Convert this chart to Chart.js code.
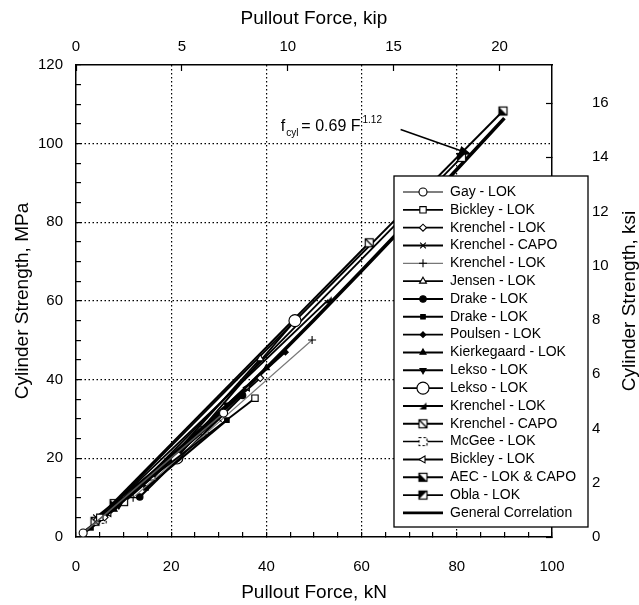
<!DOCTYPE html>
<html><head><meta charset="utf-8">
<script src="https://cdn.jsdelivr.net/npm/chart.js@4.4.1/dist/chart.umd.min.js"></script>
<style>html,body{margin:0;padding:0;background:#fff;}canvas{display:block;}</style>
</head><body>
<canvas id="c" width="639" height="605"></canvas>
<script>
const FONT = "'Liberation Sans', Arial, Helvetica, sans-serif";

// ---- tick labels ----
const kNTickLabels = [0, 20, 40, 60, 80, 100];
const mpaTickLabels = [0, 20, 40, 60, 80, 100, 120];
const kipTicks = [0, 5, 10, 15, 20];
const ksiTicks = [0, 2, 4, 6, 8, 10, 12, 14, 16];
const KN_PER_KIP = 4.448222;
const MPA_PER_KSI = 6.894757;

// ---- series (Pullout force kN, cylinder strength MPa) ----
const seriesNames = ['Gay - LOK','Bickley - LOK','Krenchel - LOK','Krenchel - CAPO','Krenchel - LOK',
  'Jensen - LOK','Drake - LOK','Drake - LOK','Poulsen - LOK','Kierkegaard - LOK','Lekso - LOK',
  'Lekso - LOK','Krenchel - LOK','Krenchel - CAPO','McGee - LOK','Bickley - LOK',
  'AEC - LOK & CAPO','Obla - LOK','General Correlation'];

const gayX = [1.5, 31];          const gayY = [1.0, 31.5];
const bickley1X = [5, 37.6];     const bickley1Y = [5, 35.3];
const krenchel1X = [6, 38.7];    const krenchel1Y = [5, 40.4];
const krenchel2X = [4.2, 30];    const krenchel2Y = [5, 30];
const krenchel3X = [12, 49.6];   const krenchel3Y = [10, 50.1];
const jensenX = [16.2, 38.7];    const jensenY = [15, 45.3];
const drake1X = [13.4, 35];      const drake1Y = [10.2, 36];
const drake2X = [14.7, 31.7];    const drake2Y = [12.5, 29.7];
const poulsenX = [5, 44];        const poulsenY = [4.5, 47];
const kierkX = [8, 40];          const kierkY = [7, 43];
const lekso1X = [9, 31.7];       const lekso1Y = [8, 33.6];
const lekso2X = [21.2, 46];      const lekso2Y = [20.1, 55];
const krenchel4X = [3, 53];      const krenchel4Y = [2.5, 60.3];
const krenchel5X = [4, 61.6];    const krenchel5Y = [4, 74.8];
const mcgeeX = [5.5, 27];        const mcgeeY = [4.5, 27];
const bickley2X = [6.9, 36];     const bickley2Y = [6.1, 38];
const aecX = [8, 89.7];          const aecY = [8.5, 108.3];
const oblaX = [10, 81];          const oblaY = [9, 96.5];
const generalX = [2, 5, 10, 15, 20, 25, 30, 40, 50, 60, 70, 80, 90];
const generalY = [1.50, 4.18, 9.09, 14.32, 19.77, 25.38, 31.14, 42.97, 55.17, 67.67, 80.42, 93.41, 106.5];

// annotation anchor (data coordinates)
const noteText = [43.0, 103.2];
const arrowFrom = [68.2, 103.6];
const arrowTo = [83.2, 97.2];

// ---- custom markers ----
function mk(draw){ const c=document.createElement('canvas'); c.width=13; c.height=13; const g=c.getContext('2d'); draw(g); return c; }
const mSquareSlash = mk(g=>{ g.fillStyle='#fff'; g.fillRect(2,2,9,9); g.strokeStyle='#000'; g.lineWidth=1.2; g.strokeRect(2.5,2.5,8,8); g.beginPath(); g.moveTo(2.5,2.5); g.lineTo(10.5,10.5); g.stroke(); });
const mDashSquare = mk(g=>{ g.fillStyle='#fff'; g.fillRect(2,2,9,9); g.strokeStyle='#000'; g.lineWidth=1.1; g.setLineDash([2.5,2]); g.strokeRect(2.5,2.5,8,8); });
const mHalfA = mk(g=>{ g.fillStyle='#fff'; g.fillRect(2.5,2.5,8,8); g.fillStyle='#000'; g.beginPath(); g.moveTo(2.5,2.5); g.lineTo(2.5,10.5); g.lineTo(10.5,10.5); g.closePath(); g.fill(); g.strokeStyle='#000'; g.lineWidth=1.2; g.strokeRect(2.5,2.5,8,8); });
const mHalfB = mk(g=>{ g.fillStyle='#fff'; g.fillRect(2.5,2.5,8,8); g.fillStyle='#000'; g.beginPath(); g.moveTo(2.5,2.5); g.lineTo(10.5,2.5); g.lineTo(2.5,10.5); g.closePath(); g.fill(); g.strokeStyle='#000'; g.lineWidth=1.2; g.strokeRect(2.5,2.5,8,8); });
const mCornerTri = mk(g=>{ g.fillStyle='#000'; g.beginPath(); g.moveTo(10,3); g.lineTo(10,10); g.lineTo(3,10); g.closePath(); g.fill(); });

function pts(xs, ys){ return xs.map((x,i)=>({x, y: ys[i]})); }
const seriesData = [
  [gayX,gayY],[bickley1X,bickley1Y],[krenchel1X,krenchel1Y],[krenchel2X,krenchel2Y],[krenchel3X,krenchel3Y],
  [jensenX,jensenY],[drake1X,drake1Y],[drake2X,drake2Y],[poulsenX,poulsenY],[kierkX,kierkY],[lekso1X,lekso1Y],
  [lekso2X,lekso2Y],[krenchel4X,krenchel4Y],[krenchel5X,krenchel5Y],[mcgeeX,mcgeeY],[bickley2X,bickley2Y],
  [aecX,aecY],[oblaX,oblaY],[generalX,generalY]];
// style per series: [pointStyle, radius, fill, rotation, lineColor, lineWidth]
const styles = [
  ['circle',4,'#fff',0,'#555',1.5],
  ['rect',4.5,'#fff',0,'#000',1.9],
  ['rectRot',3.5,'#fff',0,'#000',1.9],
  ['crossRot',4,'#fff',0,'#000',1.9],
  ['cross',4,'#fff',0,'#777',1.2],
  ['triangle',4,'#fff',0,'#000',1.9],
  ['circle',3.2,'#000',0,'#000',2.1],
  ['rect',3.2,'#000',0,'#000',2.1],
  ['rectRot',2.8,'#000',0,'#000',1.9],
  ['triangle',3.5,'#000',0,'#000',1.9],
  ['triangle',3.5,'#000',180,'#000',2.1],
  ['circle',6,'#fff',0,'#000',1.9],
  [mCornerTri,4,'#000',0,'#000',1.9],
  [mSquareSlash,4,'#fff',0,'#000',1.9],
  [mDashSquare,4,'#fff',0,'#000',1.5],
  ['triangle',4,'#fff',270,'#000',1.9],
  [mHalfA,4,'#fff',0,'#000',1.9],
  [mHalfB,4,'#fff',0,'#000',1.9],
  [false,0,'#000',0,'#000',3.6]
];

const datasets = seriesNames.map((name,i)=>{
  const s = styles[i];
  return {
    label: name,
    data: pts(seriesData[i][0], seriesData[i][1]),
    borderColor: s[4], borderWidth: s[5],
    pointStyle: s[0], pointRadius: s[1], pointBackgroundColor: s[2],
    pointBorderColor: '#000', pointBorderWidth: 1.1, pointRotation: s[3],
    showLine: true, tension: 0, fill: false
  };
});

const gridMajor = (max) => (c) => {
  const v = c.tick ? c.tick.value : -1;
  return (v % 20 === 0 && v !== 0 && v !== max) ? '#000' : 'rgba(0,0,0,0)';
};

const overlay = {
  id: 'overlay',
  afterDraw(chart){
    const ctx = chart.ctx, x = chart.scales.x, y = chart.scales.y, ca = chart.chartArea;
    ctx.save();
    // annotation text
    const tx = x.getPixelForValue(noteText[0]), ty = y.getPixelForValue(noteText[1]);
    ctx.fillStyle = '#000'; ctx.textBaseline = 'alphabetic'; ctx.textAlign = 'left';
    ctx.font = '16px ' + FONT;
    ctx.fillText('f', tx, ty);
    let w = ctx.measureText('f').width;
    ctx.font = '10px ' + FONT;
    ctx.fillText('cyl', tx + w + 1, ty + 5);
    w += ctx.measureText('cyl').width + 4;
    ctx.font = '16px ' + FONT;
    const main = '= 0.69 F';
    ctx.fillText(main, tx + w, ty);
    w += ctx.measureText(main).width + 2;
    ctx.font = '10px ' + FONT;
    ctx.fillText('1.12', tx + w, ty - 8);
    // arrow
    const ax1 = x.getPixelForValue(arrowFrom[0]), ay1 = y.getPixelForValue(arrowFrom[1]);
    const ax2 = x.getPixelForValue(arrowTo[0]), ay2 = y.getPixelForValue(arrowTo[1]);
    const ang = Math.atan2(ay2-ay1, ax2-ax1);
    ctx.strokeStyle = '#000'; ctx.lineWidth = 1.5;
    ctx.beginPath(); ctx.moveTo(ax1, ay1); ctx.lineTo(ax2 - 8*Math.cos(ang), ay2 - 8*Math.sin(ang)); ctx.stroke();
    ctx.beginPath();
    ctx.moveTo(ax2, ay2);
    ctx.lineTo(ax2 - 13*Math.cos(ang) + 4.5*Math.sin(ang), ay2 - 13*Math.sin(ang) - 4.5*Math.cos(ang));
    ctx.lineTo(ax2 - 13*Math.cos(ang) - 4.5*Math.sin(ang), ay2 - 13*Math.sin(ang) + 4.5*Math.cos(ang));
    ctx.closePath(); ctx.fill();

    // legend
    const lx = ca.right - 158, ly = ca.top + 111, lw = 194, lh = 351, row = 17.83;
    ctx.fillStyle = '#fff'; ctx.fillRect(lx, ly, lw, lh);
    ctx.strokeStyle = '#000'; ctx.lineWidth = 1.3; ctx.strokeRect(lx, ly, lw, lh);
    ctx.font = '14px ' + FONT; ctx.textBaseline = 'middle';
    chart.data.datasets.forEach((ds, i) => {
      const cy = ly + 16 + i*row;
      ctx.strokeStyle = ds.borderColor; ctx.lineWidth = Math.min(ds.borderWidth, 2.8);
      ctx.beginPath(); ctx.moveTo(lx + 9, cy); ctx.lineTo(lx + 49, cy); ctx.stroke();
      if (ds.pointStyle) {
        ctx.fillStyle = ds.pointBackgroundColor; ctx.strokeStyle = '#000'; ctx.lineWidth = 1.1;
        Chart.helpers.drawPoint(ctx, {pointStyle: ds.pointStyle, radius: ds.pointRadius, rotation: ds.pointRotation, borderWidth: 1.1}, lx + 29, cy);
      }
      ctx.fillStyle = '#000';
      ctx.fillText(ds.label, lx + 56, cy);
    });
    // right title
    ctx.save();
    ctx.translate(630, (ca.top + ca.bottom)/2);
    ctx.rotate(-Math.PI/2);
    ctx.font = '19px ' + FONT; ctx.textAlign = 'center'; ctx.textBaseline = 'middle'; ctx.fillStyle = '#000';
    ctx.fillText('Cylinder Strength, ksi', 0, 0);
    ctx.restore();
    ctx.restore();
  }
};

const tickFont = {family: FONT, size: 15};
const titleFont = {family: FONT, size: 19};

new Chart(document.getElementById('c'), {
  type: 'scatter',
  data: { datasets },
  options: {
    responsive: false, animation: false, devicePixelRatio: 1,
    layout: { padding: 0 },
    plugins: { legend: {display:false}, tooltip: {enabled:false} },
    scales: {
      x: {
        type: 'linear', position: 'bottom', min: 0, max: 100,
        afterFit: s => { s.height = 68; },
        ticks: { stepSize: 5, autoSkip: false, maxRotation: 0, padding: 26, color: '#000', font: tickFont,
          callback: v => kNTickLabels.includes(v) ? String(v) : '' },
        grid: { color: gridMajor(100), lineWidth: 1.2, tickColor: '#000', tickLength: -5, tickWidth: 1.2, tickBorderDash: [] },
        border: { display: true, color: '#000', width: 1.5, dash: [1.5, 2.5] },
        title: { display: true, text: 'Pullout Force, kN', color: '#000', font: titleFont, padding: {top: 0, bottom: 1} }
      },
      y: {
        type: 'linear', position: 'left', min: 0, max: 120,
        afterFit: s => { s.width = 76; },
        ticks: { stepSize: 5, autoSkip: false, padding: 18, color: '#000', font: tickFont,
          callback: v => mpaTickLabels.includes(v) ? String(v) : '' },
        grid: { color: gridMajor(120), lineWidth: 1.2, tickColor: '#000', tickLength: -5, tickWidth: 1.2, tickBorderDash: [] },
        border: { display: true, color: '#000', width: 1.5, dash: [1.5, 2.5] },
        title: { display: true, text: 'Cylinder Strength, MPa', color: '#000', font: titleFont, padding: {top: 11, bottom: 0} }
      },
      x2: {
        type: 'linear', position: 'top', min: 0, max: 100 / KN_PER_KIP,
        afterFit: s => { s.height = 65; },
        afterBuildTicks: s => { s.ticks = kipTicks.map(v => ({value: v})); },
        ticks: { autoSkip: false, maxRotation: 0, padding: 15, color: '#000', font: tickFont, callback: v => String(v) },
        grid: { drawOnChartArea: false, tickColor: '#000', tickLength: -6, tickWidth: 1.2 },
        border: { display: true, color: '#000', width: 1.5 },
        title: { display: true, text: 'Pullout Force, kip', color: '#000', font: titleFont, padding: {top: 7, bottom: 0} }
      },
      y2: {
        type: 'linear', position: 'right', min: 0, max: 120 / MPA_PER_KSI,
        afterFit: s => { s.width = 87; },
        afterBuildTicks: s => { s.ticks = ksiTicks.map(v => ({value: v})); },
        ticks: { autoSkip: false, padding: 46, color: '#000', font: tickFont, callback: v => String(v) },
        grid: { drawOnChartArea: false, tickColor: '#000', tickLength: -6, tickWidth: 1.2 },
        border: { display: true, color: '#000', width: 1.5 },
        title: { display: false }
      }
    }
  },
  plugins: [overlay]
});
</script>
</body></html>
